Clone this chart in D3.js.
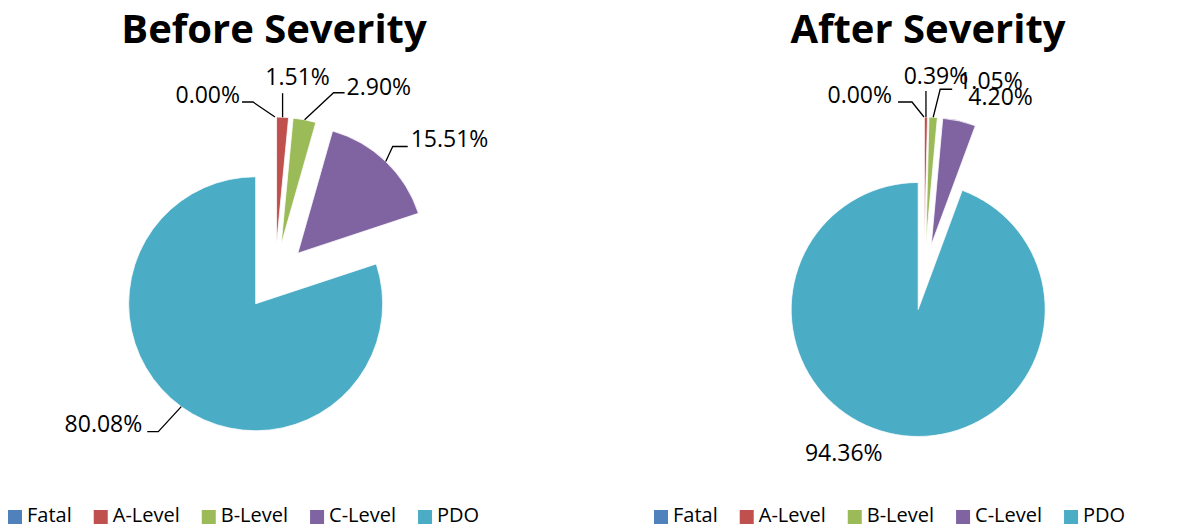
<!DOCTYPE html>
<head>
  <meta charset="utf-8">
  <script src="https://d3js.org/d3.v7.min.js"></script>
  <style>
    body { margin: 0; background: #fff; }
    text { font-family: "Open Sans", sans-serif; fill: #000; }
  </style>
</head>
<body>
  <div id="chart"></div>
  <script>
    // data
    var categories = ["Fatal", "A-Level", "B-Level", "C-Level", "PDO"];
    var beforeValues = [0.00, 1.51, 2.90, 15.51, 80.08];
    var afterValues = [0.00, 0.39, 1.05, 4.20, 94.36];
    var titles = ["Before Severity", "After Severity"];

    var colors = ["#4F81BD", "#C0504D", "#9BBB59", "#8064A2", "#4BACC6"];

    var width = 1199, height = 527;
    var radius = 127, explode = 33;

    // label layout, offsets from the slice's outer point
    var beforeLabels = [
      {elbow: [-22, -15], tail: -11, text: [-2, 1], anchor: "end"},
      {elbow: [0, -24], tail: 0, text: [15, -8], anchor: "middle"},
      {elbow: [29, -27], tail: 11, text: [2, 2], anchor: "start"},
      {elbow: [7, -15], tail: 15, text: [3, 0], anchor: "start"},
      {elbow: [-23, 25], tail: -11, text: [-5, 0], anchor: "end"}
    ];
    var afterLabels = [
      {elbow: [-12, -15], tail: -14, text: [-6, 1], anchor: "end"},
      {elbow: [0, -26], tail: 0, text: [10, -7], anchor: "middle"},
      {elbow: [7, -28], tail: 12, text: [6, 0], anchor: "start"},
      {elbow: null, text: [9, -16], anchor: "start"},
      {elbow: null, text: [-52, 27], anchor: "middle"}
    ];

    var charts = [
      {title: titles[0], values: beforeValues, labels: beforeLabels, cx: 275, cy: 277, tx: 274, lx: 8},
      {title: titles[1], values: afterValues, labels: afterLabels, cx: 924, cy: 277, tx: 928, lx: 654}
    ];

    var svg = d3.select("#chart").append("svg")
      .attr("width", width)
      .attr("height", height);

    var pie = d3.pie().sort(null).value(function(d) { return d.v; });
    var arc = d3.arc().innerRadius(0).outerRadius(radius);

    charts.forEach(function(c) {
      var g = svg.append("g");

      g.append("text")
        .attr("x", c.tx)
        .attr("y", 43)
        .attr("text-anchor", "middle")
        .style("font-size", "40px")
        .style("font-weight", "bold")
        .text(c.title);

      var data = c.values.map(function(v, i) { return {v: v, name: categories[i], i: i}; });
      var arcs = pie(data);

      var pg = g.append("g").attr("transform", "translate(" + c.cx + "," + c.cy + ")");

      arcs.forEach(function(a) {
        var mid = (a.startAngle + a.endAngle) / 2;
        var ox = Math.sin(mid) * explode, oy = -Math.cos(mid) * explode;
        if (a.endAngle > a.startAngle) {
          pg.append("path")
            .attr("d", arc(a))
            .attr("transform", "translate(" + ox + "," + oy + ")")
            .attr("fill", colors[a.data.i])
            .attr("stroke", "#fff")
            .attr("stroke-width", 0.75);
        }
        // outer point of the slice
        var px = ox + Math.sin(mid) * radius, py = oy - Math.cos(mid) * radius;
        var L = c.labels[a.data.i];
        var endX = px, endY = py;
        if (L.elbow) {
          var ex = px + L.elbow[0], ey = py + L.elbow[1];
          endX = ex + L.tail; endY = ey;
          pg.append("polyline")
            .attr("points", [[px, py], [ex, ey], [endX, endY]].join(" "))
            .attr("fill", "none")
            .attr("stroke", "#000")
            .attr("stroke-width", 1.3);
        }
        pg.append("text")
          .attr("x", endX + L.text[0])
          .attr("y", endY + L.text[1])
          .attr("text-anchor", L.anchor)
          .style("font-size", "23px")
          .text(d3.format(".2f")(a.data.v) + "%");
      });

      // legend
      var lg = g.append("g").attr("transform", "translate(" + c.lx + ",510)");
      var x = 0;
      categories.forEach(function(name, i) {
        lg.append("rect")
          .attr("x", x).attr("y", 0)
          .attr("width", 14).attr("height", 14)
          .attr("fill", colors[i]);
        var t = lg.append("text")
          .attr("x", x + 19)
          .attr("y", 12)
          .style("font-size", "20px")
          .text(name);
        x += 19 + t.node().getComputedTextLength() + 22;
      });
    });
  </script>
</body>
